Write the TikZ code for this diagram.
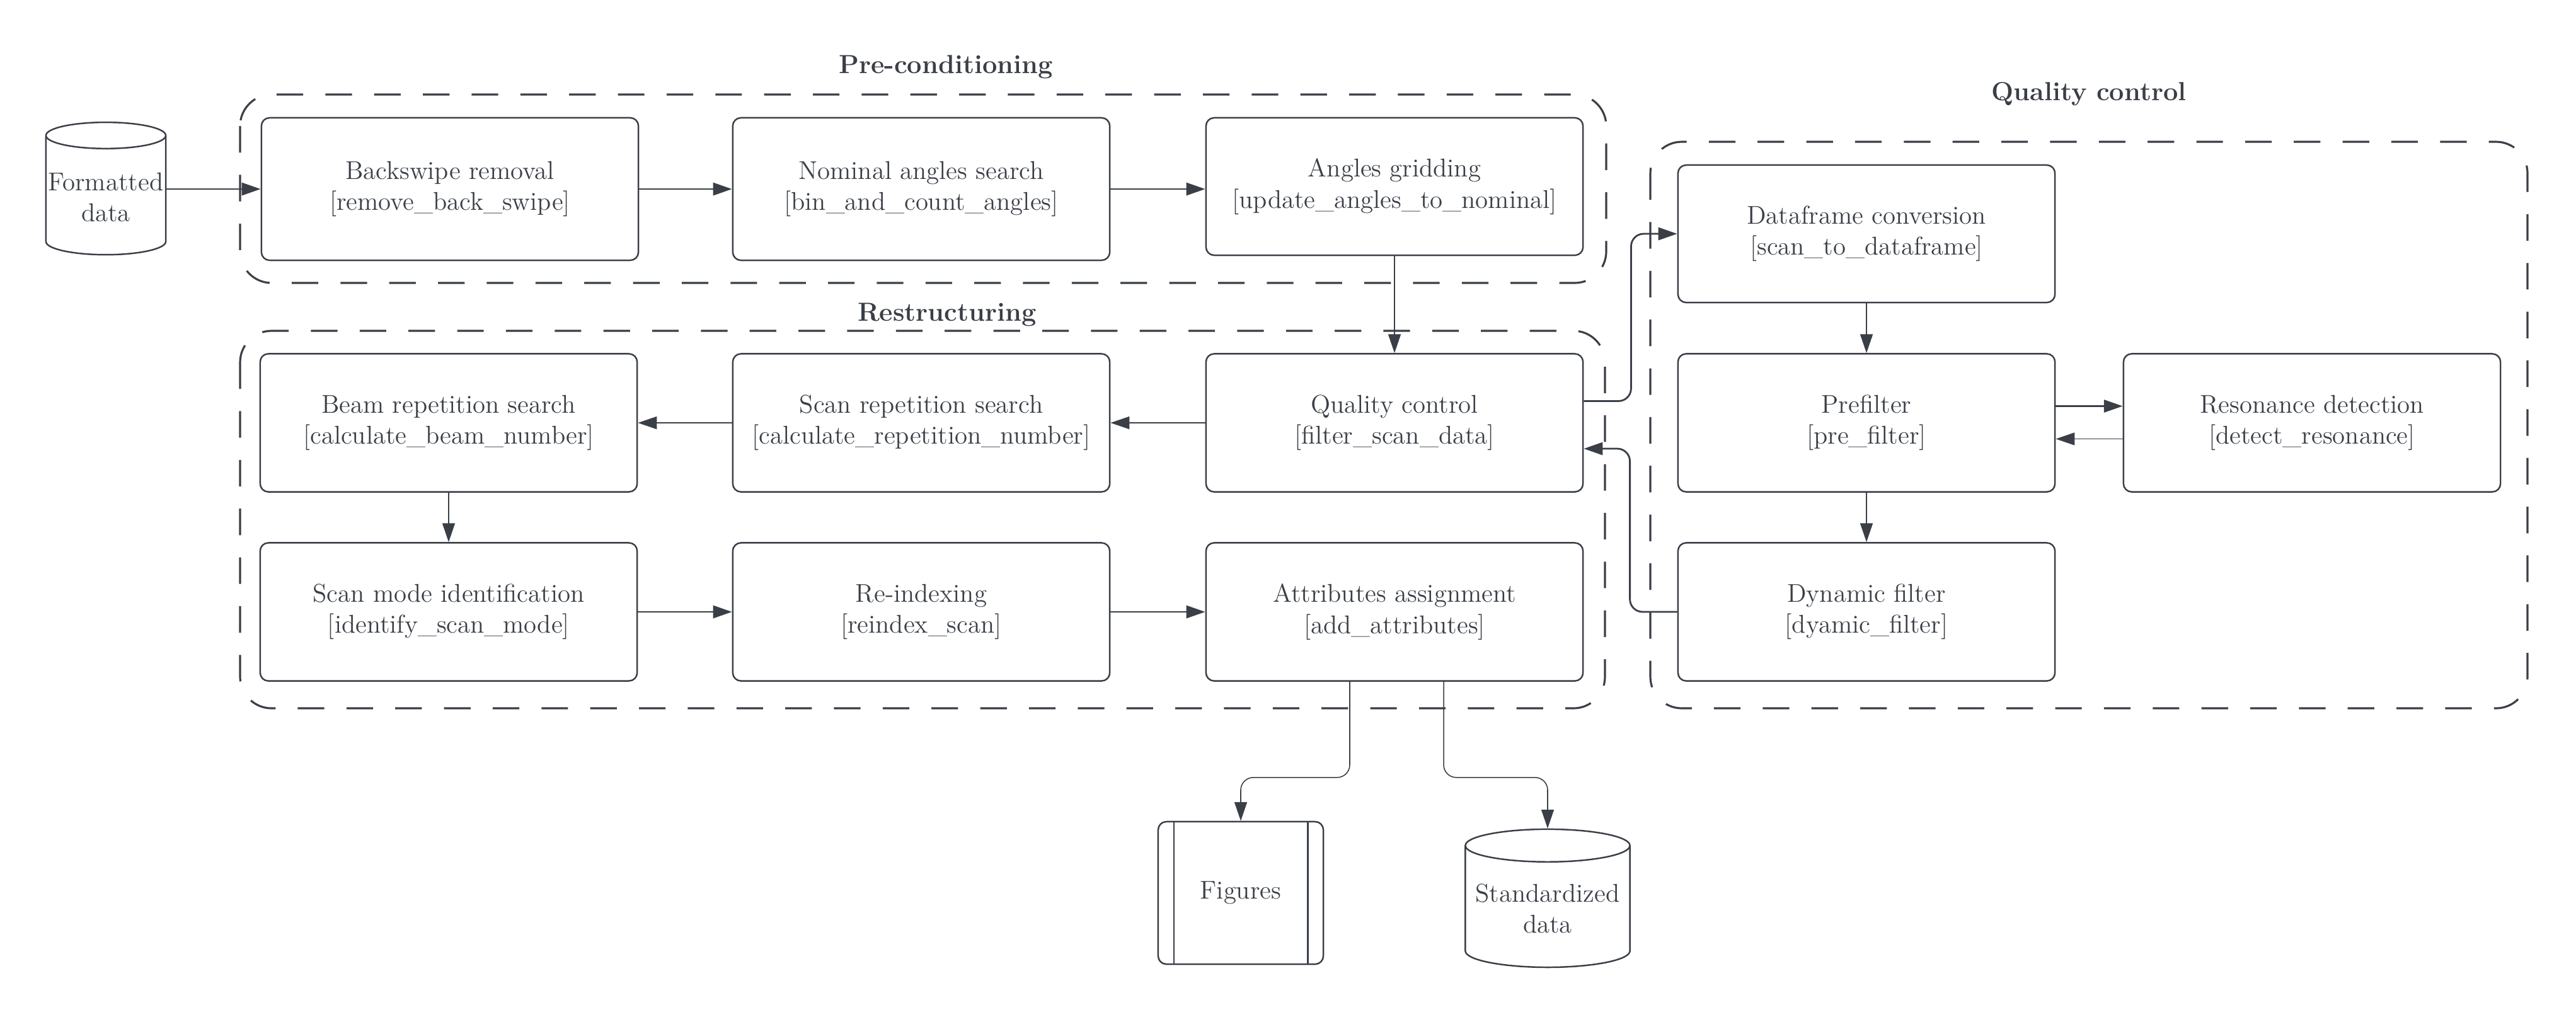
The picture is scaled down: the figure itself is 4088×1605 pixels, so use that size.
\documentclass[tikz,border=0pt]{standalone}
\usetikzlibrary{shapes.geometric,arrows.meta}
\definecolor{ink}{HTML}{3A3F47}
\begin{document}
\begin{tikzpicture}[x=0.01cm,y=-0.01cm]
\tikzset{etape/.style={draw=ink, line width=0.7pt, rounded corners=0.13cm, fill=white, text=ink, align=center, minimum width=5.98cm, minimum height=2.19cm, font=\fontsize{11.6}{14}\selectfont},
cylindre/.style={draw=ink, line width=0.7pt, cylinder, shape border rotate=90, aspect=0.22, inner sep=1pt, text=ink, align=center, font=\fontsize{11.6}{14}\selectfont},
groupe/.style={draw=ink, line width=0.9pt, dash pattern=on 12pt off 10pt, rounded corners=0.5cm},
titre/.style={text=ink, font=\fontsize{11.8}{14}\selectfont\bfseries, anchor=base},
fleche/.style={draw=ink, line width=0.45pt, rounded corners=0.2cm, -{Triangle[length=8.5pt,width=5.7pt]}},
grosse/.style={fleche, line width=0.8pt}}
\useasboundingbox (0,0) rectangle (4088,1605);
\draw[groupe] (381,150) rectangle (2549,449);
\draw[groupe] (381,525) rectangle (2547,1124);
\draw[groupe] (2619,225) rectangle (4011,1124);
\node[titre] (tpre) at (1501,116) {Pre-conditioning};
\node[titre] (tres) at (1503,509) {Restructuring};
\node[titre] (tqc) at (3315,159) {Quality control};
\node[cylindre, minimum width=1.9cm, minimum height=2.1cm] (fmt) at (168,313) {Formatted\\data};
\node[etape, minimum height=2.26cm] (back) at (714,300) {Backswipe removal\\{}[remove\_back\_swipe]};
\node[etape, minimum height=2.26cm] (nom) at (1462,300) {Nominal angles search\\{}[bin\_and\_count\_angles]};
\node[etape, minimum height=2.18cm] (grid) at (2213,296) {Angles gridding\\{}[update\_angles\_to\_nominal]};
\node[etape] (qc) at (2213,671) {Quality control\\{}[filter\_scan\_data]};
\node[etape] (scanrep) at (1462,671) {Scan repetition search\\{}[calculate\_repetition\_number]};
\node[etape] (beam) at (712,671) {Beam repetition search\\{}[calculate\_beam\_number]};
\node[etape] (mode) at (712,971) {Scan mode identification\\{}[identify\_scan\_mode]};
\node[etape] (reidx) at (1462,971) {Re-indexing\\{}[reindex\_scan]};
\node[etape] (attr) at (2213,971) {Attributes assignment\\{}[add\_attributes]};
\node[etape, minimum height=2.18cm] (dfconv) at (2962,371) {Dataframe conversion\\{}[scan\_to\_dataframe]};
\node[etape] (prefilt) at (2962,671) {Prefilter\\{}[pre\_filter]};
\node[etape] (reson) at (3669,671) {Resonance detection\\{}[detect\_resonance]};
\node[etape] (dynfilt) at (2962,971) {Dynamic filter\\{}[dyamic\_filter]};
\node[etape, minimum width=2.62cm, minimum height=2.26cm] (figs) at (1969,1417) {Figures};
\draw[draw=ink, line width=0.7pt] ([xshift=0.26cm]figs.north west) -- ([xshift=0.26cm]figs.south west);
\draw[draw=ink, line width=0.7pt] ([xshift=-0.26cm]figs.north east) -- ([xshift=-0.26cm]figs.south east);
\node[cylindre, minimum width=2.61cm, minimum height=2.19cm] (std) at (2456,1442) {Standardized\\data};
\draw[grosse] (fmt.east |- back.west) -- (back.west);
\draw[grosse] (back) -- (nom);
\draw[grosse] (nom.east) -- (nom.east -| grid.west);
\draw[fleche] (grid) -- (qc);
\draw[fleche] (qc) -- (scanrep);
\draw[fleche] (scanrep) -- (beam);
\draw[fleche] (beam) -- (mode);
\draw[grosse] (mode) -- (reidx);
\draw[grosse] (reidx) -- (attr);
\draw[grosse] ([yshift=0.345cm]qc.east) -- ++(75,0) |- (dfconv.west);
\draw[grosse] (dynfilt.west) -- ++(-75,0) |- ([yshift=-0.41cm]qc.east);
\draw[fleche] (dfconv) -- (prefilt);
\draw[fleche] (prefilt) -- (dynfilt);
\draw[grosse] ([yshift=0.265cm]prefilt.east) -- ([yshift=0.265cm]reson.west);
\draw[fleche] ([yshift=-0.255cm]reson.west) -- ([yshift=-0.255cm]prefilt.east);
\draw[fleche] ([xshift=-0.71cm]attr.south) -- ++(0,152) -| (figs.north);
\draw[fleche] ([xshift=0.78cm]attr.south) -- ++(0,152) -| (std.north);
\end{tikzpicture}
\end{document}
